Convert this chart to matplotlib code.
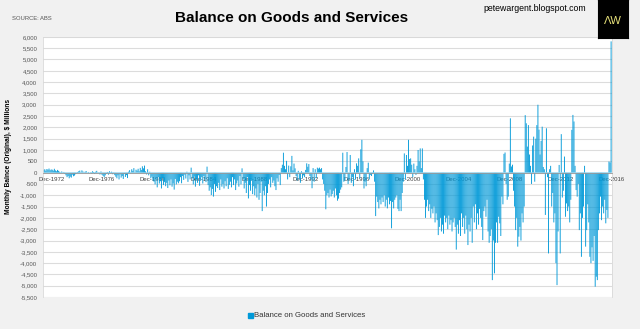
import numpy as np
import matplotlib
matplotlib.use('Agg')
import matplotlib.pyplot as plt
from matplotlib.ticker import FuncFormatter, MultipleLocator

# monthly balance, $ millions, May-1972 .. Dec-2016
vals_1972_79 = [
    120, 150, 90, 160, 130, 180, 110, 140,
    130, 90, 170, 100, 60, 120, 80, 40, -30, 50, -20, 30,
    -60, -120, -200, -150, -250, -180, -220, -90, -160, -130, -70, -40,
    30, 60, 90, 20, 100, 50, -20, 40, 70, 10, 30, -10,
    20, -40, 60, 30, -60, 40, 80, -20, 20, -80, 50, -100,
    -150, -200, -120, -60, 30, -90, 60, -30, 40, -70, 20, -110,
    -180, -250, -120, -300, -80, -220, -150, -280, -60, -190, -110, -240,
    40, 110, -30, 150, 80, 200, 20, 130, 90, 170, 60, 210,
]
vals_1980s = [
    120, 280, 190, 310, 60, -80, 150, -120, 40, -250, -180, -350,
    -400, -520, -300, -650, -200, -480, -380, -700, -250, -550, -420, -600,
    -450, -680, -350, -560, -300, -620, -480, -750, -280, -520, -400, -470,
    -380, -200, -470, -150, -320, -90, -260, 40, -410, -120, -300, 220,
    -250, -520, -180, -620, -300, -450, -120, -580, -350, -200, -480, -150,
    -300, -420, 265, -550, -800, -650, -990, -720, -1060, -500, -850, -600,
    -680, -450, -770, -300, -620, -500, -700, -380, -600, -250, -720, -540,
    -400, -650, -200, -550, -300, -770, -480, -350, -620, -150, -520, 190,
    -300, -700, -450, -900, -200, -1140, -550, -800, -350, -950, -600, -1000,
    -700, -1100, -500, -1200, -900, -400, -1700, -800, -1000, -600, -1500, -900,
]
vals_1990s = [
    -500, -300, -650, -200, -450, -350, -600, -770, -250, -400, -100, -550,
    200, 350, 880, 300, 150, 520, -300, 310, -200, 280, 740, 100,
    400, 190, -150, -350, 80, -300, -450, 60, -250, -120, -200, 120,
    410, 260, 380, -150, -300, -690, 200, -400, 150, -250, 220, 180,
    220, 150, 200, -300, -500, -800, -1620, -1000, -900, -1100, -750, -1050,
    -950, -800, -1100, -700, -1000, -1240, -1150, -900, -750, -650, 880, -400,
    -350, 250, 910, -500, -300, 780, -450, -200, -600, 150, -300, 410,
    300, 630, -250, 1030, 1450, 500, -700, -400, -600, 200, 440, -300,
    -100, -150, -50, 100, -400, -1920, -1060, -1300, -1580, -1200, -1400, -1100,
    -1300, -1000, -1500, -1200, -1580, -1100, -1400, -1250, -2460, -1300, -1580, -1200,
]
vals_2000s = [
    -1100, -1000, -1600, -1700, -1200, -1700, -900, -400, 850, -300, 780, 300,
    1450, 600, 630, 350, -200, 400, 150, -100, 300, 1000, 500, 1070,
    200, 1070, -300, -1200, -2000, -1500, -1200, -1700, -1400, -2000, -1600, -1800,
    -1500, -2200, -1800, -2100, -2760, -2400, -2000, -2600, -2300, -2700, -1900, -2200,
    -2000, -2500, -1900, -2300, -2100, -2600, -2200, -2000, -2400, -3400, -2300, -2700,
    -2100, -2800, -1800, -2400, -2000, -2700, -1900, -2500, -3200, -2300, -2600, -2000,
    -3100, -1500, -2200, -1400, -2500, -1800, -2300, -1600, -2000, -2400, -2980, -1700,
    -1500, -1950, -1200, -2600, -3100, -2800, -2500, -4750, -3000, -4450, -3100, -2200,
    -3100, -1950, -2240, -2800, -1060, -1400, 830, 890, -500, -1200, -1060, 400,
    2400, 270, 350, -800, -1500, -2540, -2000, -3270, -2830, -2400, -3000, -1800,
]
vals_2010s = [
    -2200, -1500, 2540, 2180, 1150, 2100, 800, 300, -500, 1200, 1590, -400,
    1500, 2100, 3000, 1900, 800, 1400, 2030, 250, 150, -1870, 1960, -200,
    -3570, 150, 300, -1500, -900, -2200, -1800, -4000, -4970, -2600, 340, -3570,
    1700, -1100, -800, 710, -1950, -1360, -1700, -1500, -2200, -1200, 1890, 2550,
    2260, 300, -770, -1060, -500, -2540, -1800, -3720, -2000, -1500, 300, -3270,
    -2540, -1400, -2200, -3720, -4000, -3300, -3900, -2800, -5040, -4600, -4750, -2540,
    -1800, -1060, -2100, -1500, -1800, -1200, -2240, -1650, -2000, 490, 450, 5800,
]
tick_labels = ['Dec-1972', 'Dec-1976', 'Dec-1980', 'Dec-1984', 'Dec-1988', 'Dec-1992',
               'Dec-1996', 'Dec-2000', 'Dec-2004', 'Dec-2008', 'Dec-2012', 'Dec-2016']

balance = np.array(vals_1972_79 + vals_1980s + vals_1990s + vals_2000s + vals_2010s)
idx = np.arange(len(balance))
first_dec = 7  # Dec-1972 is the 8th month (series starts May-1972)
tick_pos = [first_dec + 48 * k for k in range(len(tick_labels))]

font = ['Liberation Sans', 'DejaVu Sans']
bar_col = '#0099d8'
bg = '#f1f1f1'

fig = plt.figure(figsize=(6.4, 3.29), dpi=100, facecolor=bg)
ax = fig.add_axes([0.067, 0.097, 0.889, 0.791])
ax.set_facecolor('white')

bars = ax.bar(idx, balance, width=0.85, color=bar_col, linewidth=0, zorder=2)
for b in bars:
    b.set_snap(False)

ax.set_xlim(-0.8, len(balance) - 0.3)
ax.set_ylim(-5500, 6000)
ax.yaxis.set_major_locator(MultipleLocator(500))
ax.yaxis.set_major_formatter(FuncFormatter(lambda v, p: f'{v:,.0f}'))
ax.grid(axis='y', color='#dcdcdc', linewidth=0.8, zorder=0)
ax.set_axisbelow(True)

ax.set_xticks(tick_pos)
ax.set_xticklabels(tick_labels)
ax.spines['bottom'].set_position(('data', 0))
ax.spines['bottom'].set_color('#9a9a9a')
ax.spines['bottom'].set_linewidth(0.6)
ax.spines['bottom'].set_zorder(3)
for s in ['top', 'right', 'left']:
    ax.spines[s].set_color('#d9d9d9')
    ax.spines[s].set_linewidth(0.6)
ax.tick_params(axis='x', length=0, labelsize=4.3, labelcolor='#404040', pad=3)
ax.tick_params(axis='y', length=0, labelsize=4.3, labelcolor='#555555', pad=4)
for lab in ax.get_xticklabels() + ax.get_yticklabels():
    lab.set_family(font)

ax.set_ylabel('Monthly Balnce (Original), $ Millions', fontsize=4.8, fontweight='bold',
              family=font)
ax.yaxis.set_label_coords(-0.054, 0.54)

fig.text(0.456, 0.945, 'Balance on Goods and Services', ha='center', va='center',
         fontsize=11, fontweight='bold', family=font)
fig.text(0.019, 0.945, 'SOURCE: ABS', ha='left', va='center', fontsize=4.2,
         color='#555555', family=font)
fig.text(0.836, 0.975, 'petewargent.blogspot.com', ha='center', va='center',
         fontsize=6.3, family=font)

# logo box
logo = fig.add_axes([0.934, 0.885, 0.047, 0.115])
logo.set_facecolor('black')
logo.set_xticks([])
logo.set_yticks([])
logo.text(0.5, 0.45, 'ΛW', ha='center', va='center', color='#e8e27a', fontsize=8,
          family=font)

# legend
fig.patches.append(plt.Rectangle((0.3875, 0.033), 0.0078, 0.015,
                                 transform=fig.transFigure, color=bar_col))
fig.text(0.397, 0.040, 'Balance on Goods and Services', ha='left', va='center',
         fontsize=5.6, color='#333333', family=font)

fig.savefig('out.png', dpi=100, facecolor=bg)
